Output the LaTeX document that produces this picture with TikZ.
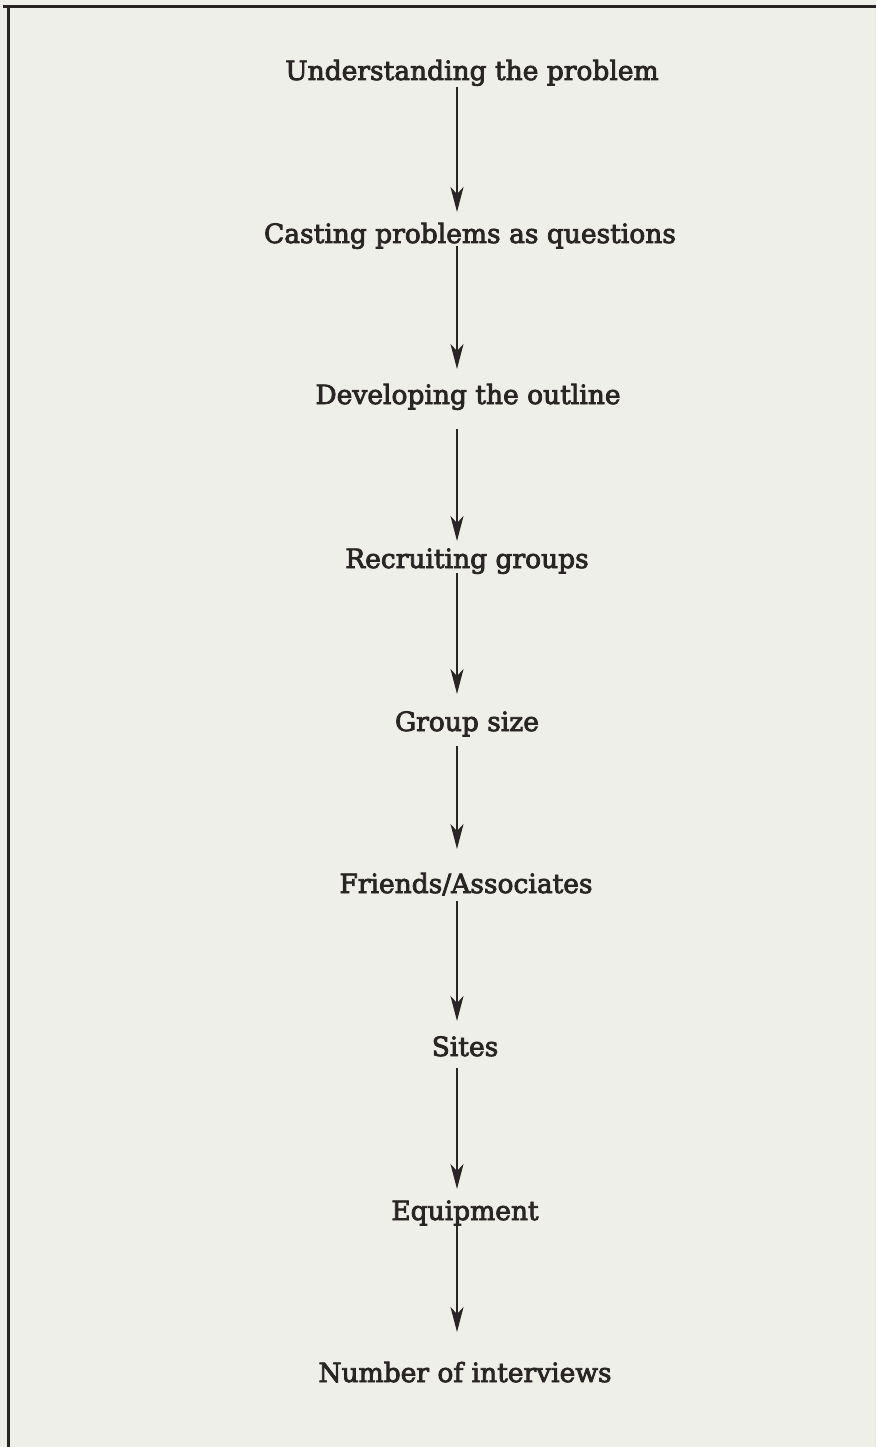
\documentclass[tikz,border=0pt]{standalone}
\usepackage{fontspec}
\setmainfont{DejaVu Serif}[FakeBold=3]
\usetikzlibrary{arrows.meta}
\definecolor{paper}{HTML}{EFEFEA}
\definecolor{ink}{HTML}{2A2525}
\begin{document}
\begin{tikzpicture}[x=1pt,y=-1pt,
  lbl/.style={anchor=base,inner sep=0pt,text=ink,font=\fontsize{26.5}{30}\selectfont},
  arr/.style={draw=ink,line width=1.9pt,-{Stealth[length=25pt,width=13pt,inset=7pt]}},
  frame/.style={draw=ink,line width=3pt}]
\useasboundingbox[fill=paper] (0,0) rectangle (876,1447);
\draw[frame] (3,7) -- (876,7);
\draw[frame] (8,6) -- (8,1447);
\coordinate (ax) at (457,0);
\node[lbl] (n1) at (472,80) {Understanding the problem};
\node[lbl] (n2) at (470,243) {Casting problems as questions};
\node[lbl] (n3) at (468,404) {Developing the outline};
\node[lbl] (n4) at (467,568) {Recruiting groups};
\node[lbl] (n5) at (467,731) {Group size};
\node[lbl] (n6) at (466,893) {Friends/Associates};
\node[lbl] (n7) at (465,1056) {Sites};
\node[lbl] (n8) at (465,1220) {Equipment};
\node[lbl] (n9) at (465,1382) {Number of interviews};
\draw[arr] ([yshift=-7pt]n1.base -| ax) -- ([yshift=31pt]n2.base -| ax);
\draw[arr] ([yshift=-3pt]n2.base -| ax) -- ([yshift=35pt]n3.base -| ax);
\draw[arr] ([yshift=-25pt]n3.base -| ax) -- ([yshift=27pt]n4.base -| ax);
\draw[arr] ([yshift=-5pt]n4.base -| ax) -- ([yshift=37pt]n5.base -| ax);
\draw[arr] ([yshift=-15pt]n5.base -| ax) -- ([yshift=44pt]n6.base -| ax);
\draw[arr] ([yshift=-8pt]n6.base -| ax) -- ([yshift=35pt]n7.base -| ax);
\draw[arr] ([yshift=-12pt]n7.base -| ax) -- ([yshift=31pt]n8.base -| ax);
\draw[arr] ([yshift=-6pt]n8.base -| ax) -- ([yshift=50pt]n9.base -| ax);
\end{tikzpicture}
\end{document}
